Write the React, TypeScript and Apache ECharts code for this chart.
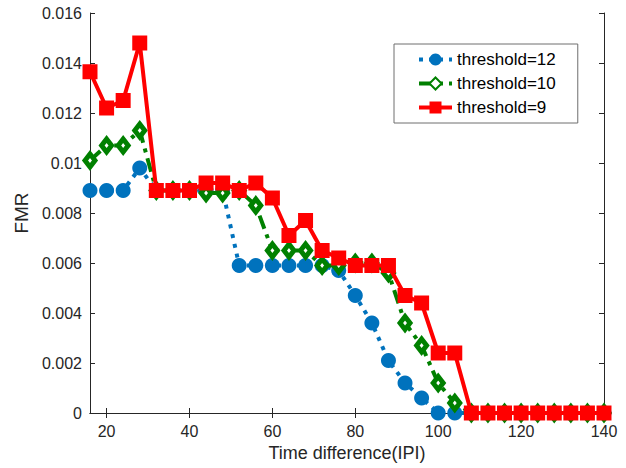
import React, { useEffect, useRef } from "react";
import * as echarts from "echarts";

const xValues = [16, 20, 24, 28, 32, 36, 40, 44, 48, 52, 56, 60, 64, 68, 72, 76, 80, 84, 88, 92, 96, 100, 104, 108, 112, 116, 120, 124, 128, 132, 136, 140];
const th12 = [0.0089, 0.0089, 0.0089, 0.0098, 0.0089, 0.0089, 0.0089, 0.0089, 0.0089, 0.0059, 0.0059, 0.0059, 0.0059, 0.0059, 0.0059, 0.0057, 0.0047, 0.0036, 0.0021, 0.0012, 0.0006, 0, 0, 0, 0, 0, 0, 0, 0, 0, 0, 0];
const th10 = [0.0101, 0.0107, 0.0107, 0.0113, 0.0089, 0.0089, 0.0089, 0.0088, 0.0088, 0.0089, 0.0083, 0.0065, 0.0065, 0.0065, 0.0059, 0.0059, 0.006, 0.006, 0.0056, 0.0036, 0.0027, 0.0012, 0.0004, 0, 0, 0, 0, 0, 0, 0, 0, 0];
const th9 = [0.01365, 0.0122, 0.0125, 0.0148, 0.0089, 0.0089, 0.0089, 0.0092, 0.0092, 0.0089, 0.0092, 0.0086, 0.0071, 0.0077, 0.0065, 0.0062, 0.0059, 0.0059, 0.0059, 0.0047, 0.0044, 0.0024, 0.0024, 0, 0, 0, 0, 0, 0, 0, 0, 0];
const xTicks = [20, 40, 60, 80, 100, 120, 140];
const seriesNames = ["threshold=12", "threshold=10", "threshold=9"];

const FONT = "'Liberation Sans', Arial, sans-serif";
const AX = "#262626";

export default function App() {
  const ref = useRef<HTMLDivElement>(null);
  useEffect(() => {
    if (!ref.current) return;
    const chart = echarts.init(ref.current, null, { renderer: "svg" });
    const pair = (ys: number[]) => xValues.map((x, i) => [x, ys[i]]);
    const axisCommon = {
      axisLine: { show: true, lineStyle: { color: AX, width: 1 } },
      splitLine: { show: false },
    };
    chart.setOption({
      animation: false,
      backgroundColor: "#fff",
      grid: { left: 90, top: 13, right: 22, bottom: 55, containLabel: false },
      legend: {
        orient: "vertical",
        left: 394,
        top: 44,
        data: seriesNames,
        itemWidth: 33,
        itemHeight: 15,
        itemGap: 7,
        padding: [7, 22, 7, 23],
        borderColor: "#6e6e6e",
        borderWidth: 1,
        backgroundColor: "#fff",
        lineStyle: { width: 4 },
        textStyle: { fontFamily: FONT, fontSize: 17, color: "#000" },
      },
      xAxis: [
        {
          type: "value",
          min: 16,
          max: 140,
          ...axisCommon,
          name: "Time difference(IPI)",
          nameLocation: "middle",
          nameGap: 30,
          nameTextStyle: { fontFamily: FONT, fontSize: 18, color: AX },
          axisTick: { show: true, inside: true, length: 5, lineStyle: { color: AX }, customValues: xTicks },
          axisLabel: { fontFamily: FONT, fontSize: 16, color: AX, margin: 10, customValues: xTicks },
        },
        {
          type: "value",
          min: 16,
          max: 140,
          position: "top",
          ...axisCommon,
          axisTick: { show: true, inside: true, length: 5, lineStyle: { color: AX }, customValues: xTicks },
          axisLabel: { show: false },
        },
      ],
      yAxis: [
        {
          type: "value",
          min: 0,
          max: 0.016,
          interval: 0.002,
          ...axisCommon,
          name: "FMR",
          nameLocation: "middle",
          nameGap: 58,
          nameTextStyle: { fontFamily: FONT, fontSize: 19, color: AX },
          axisTick: { show: true, inside: true, length: 5, lineStyle: { color: AX } },
          axisLabel: {
            fontFamily: FONT,
            fontSize: 16,
            color: AX,
            margin: 8,
            formatter: (v: number) => String(parseFloat(v.toFixed(3))),
          },
        },
        {
          type: "value",
          min: 0,
          max: 0.016,
          interval: 0.002,
          position: "right",
          ...axisCommon,
          axisTick: { show: true, inside: true, length: 5, lineStyle: { color: AX } },
          axisLabel: { show: false },
        },
      ],
      series: [
        {
          name: seriesNames[0],
          type: "line",
          data: pair(th12),
          clip: false,
          symbol: "circle",
          symbolSize: 15,
          itemStyle: { color: "#0072BD" },
          lineStyle: { color: "#0072BD", width: 4, type: [4, 6] },
          z: 2,
        },
        {
          name: seriesNames[1],
          type: "line",
          data: pair(th10),
          clip: false,
          symbol: "diamond",
          symbolSize: [10, 13],
          itemStyle: { color: "#ffffff", borderColor: "#008000", borderWidth: 5 },
          lineStyle: { color: "#008000", width: 4, type: [14, 6, 4, 6] },
          z: 3,
        },
        {
          name: seriesNames[2],
          type: "line",
          data: pair(th9),
          clip: false,
          symbol: "rect",
          symbolSize: 15,
          itemStyle: { color: "#FF0000" },
          lineStyle: { color: "#FF0000", width: 4, type: "solid" },
          z: 4,
        },
      ],
    });
    return () => chart.dispose();
  }, []);
  return <div ref={ref} style={{ position: "fixed", left: 0, top: 0, width: 626, height: 468 }} />;
}
